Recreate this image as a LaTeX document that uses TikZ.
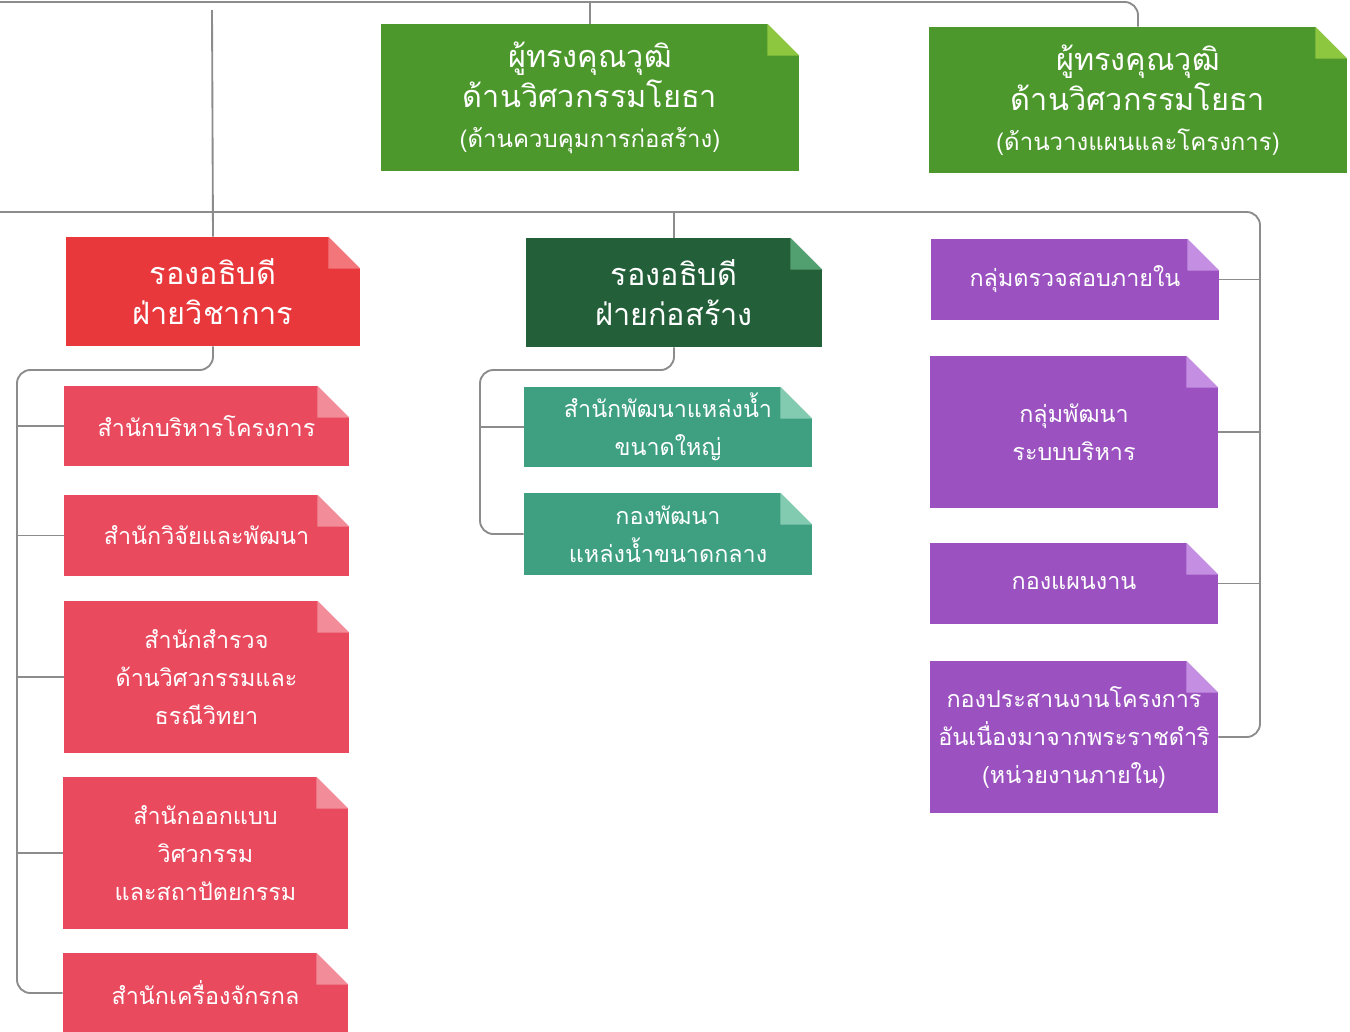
\documentclass[tikz,border=0pt]{standalone}
\usepackage{fontspec}
\newfontfamily\thaifont[Script=Thai]{Loma}
\usetikzlibrary{calc}

\definecolor{gmain}{RGB}{76,152,44}
\definecolor{gfold}{RGB}{141,198,63}
\definecolor{rmain}{RGB}{232,56,60}
\definecolor{rfold}{RGB}{242,118,122}
\definecolor{rchild}{RGB}{233,74,94}
\definecolor{rcfold}{RGB}{242,140,152}
\definecolor{dmain}{RGB}{35,96,58}
\definecolor{dfold}{RGB}{82,160,112}
\definecolor{tmain}{RGB}{62,160,128}
\definecolor{tfold}{RGB}{130,202,176}
\definecolor{pmain}{RGB}{155,82,192}
\definecolor{pfold}{RGB}{196,142,226}
\definecolor{linegray}{RGB}{140,140,140}

\tikzset{
  card/.style={rectangle, inner sep=0pt, text=white, align=center},
  headtxt/.style={font=\thaifont\fontsize{23}{30}\selectfont},
  unittxt/.style={font=\thaifont\fontsize{17.5}{28.5}\selectfont},
  conn/.style={draw=linegray, line width=1.4pt, rounded corners=10pt},
}

\begin{document}
\begin{tikzpicture}[x=0.75pt,y=0.75pt,yscale=-1,xscale=1]
\useasboundingbox (0,0) rectangle (1350,1032);

%Shape: Top cards
\node[card, headtxt, fill=gmain, minimum width=313.5pt, minimum height=110.25pt] (g1) at (590,97.5)
  {ผู้ทรงคุณวุฒิ\\ด้านวิศวกรรมโยธา\\{\fontsize{18}{30}\selectfont(ด้านควบคุมการก่อสร้าง)}};
\node[card, headtxt, fill=gmain, minimum width=313.5pt, minimum height=109.5pt] (g2) at (1138,100)
  {ผู้ทรงคุณวุฒิ\\ด้านวิศวกรรมโยธา\\{\fontsize{18}{30}\selectfont(ด้านวางแผนและโครงการ)}};

%Shape: Deputy cards
\node[card, headtxt, fill=rmain, minimum width=220.5pt, minimum height=81.75pt] (r0) at (213,291.5)
  {รองอธิบดี\\ฝ่ายวิชาการ};
\node[card, headtxt, fill=dmain, minimum width=222pt, minimum height=81.75pt] (d0) at (674,292.5)
  {รองอธิบดี\\ฝ่ายก่อสร้าง};

%Shape: Technical units
\node[card, unittxt, fill=rchild, minimum width=213.75pt, minimum height=60pt] (r1) at (206.5,426)
  {สำนักบริหารโครงการ};
\node[card, unittxt, fill=rchild, minimum width=213.75pt, minimum height=60.75pt] (r2) at (206.5,535.5)
  {สำนักวิจัยและพัฒนา};
\node[card, unittxt, fill=rchild, minimum width=213.75pt, minimum height=114pt] (r3) at (206.5,677)
  {สำนักสำรวจ\\ด้านวิศวกรรมและ\\ธรณีวิทยา};
\node[card, unittxt, fill=rchild, minimum width=213.75pt, minimum height=114pt] (r4) at (205.5,853)
  {สำนักออกแบบ\\วิศวกรรม\\และสถาปัตยกรรม};
\node[card, unittxt, fill=rchild, minimum width=213.75pt, minimum height=60pt] (r5) at (205.5,993)
  {สำนักเครื่องจักรกล};

%Shape: Construction units
\node[card, unittxt, fill=tmain, minimum width=216pt, minimum height=60pt] (t1) at (668,427)
  {สำนักพัฒนาแหล่งน้ำ\\ขนาดใหญ่};
\node[card, unittxt, fill=tmain, minimum width=216pt, minimum height=61.5pt] (t2) at (668,534)
  {กองพัฒนา\\แหล่งน้ำขนาดกลาง};

%Shape: Internal units
\node[card, unittxt, fill=pmain, minimum width=216pt, minimum height=60.75pt] (p1) at (1075,279.5)
  {กลุ่มตรวจสอบภายใน};
\node[card, unittxt, fill=pmain, minimum width=216pt, minimum height=114pt] (p2) at (1074,432)
  {กลุ่มพัฒนา\\ระบบบริหาร};
\node[card, unittxt, fill=pmain, minimum width=216pt, minimum height=60.75pt] (p3) at (1074,583.5)
  {กองแผนงาน};
\node[card, unittxt, fill=pmain, minimum width=216pt, minimum height=114pt] (p4) at (1074,737)
  {กองประสานงานโครงการ\\อันเนื่องมาจากพระราชดำริ\\(หน่วยงานภายใน)};

%Shape: Folded corners
\foreach \n/\c in {g1/gfold,g2/gfold,r0/rfold,d0/dfold,r1/rcfold,r2/rcfold,r3/rcfold,r4/rcfold,r5/rcfold,t1/tfold,t2/tfold,p1/pfold,p2/pfold,p3/pfold,p4/pfold}{
  \fill[white] (\n.north east) -- ($(\n.north east)+(-32,0)$) -- ($(\n.north east)+(0,32)$) -- cycle;
  \fill[\c] ($(\n.north east)+(-32,0)$) -- ($(\n.north east)+(0,32)$) -- ($(\n.north east)+(-32,32)$) -- cycle;
}

%Straight Lines: bus coordinates
\coordinate (topbus) at (0,2);
\coordinate (topdrop) at (212,10);
\coordinate (midbus) at (0,212);
\coordinate (rbus) at (1260,212);
\coordinate (lbus) at (17,370);
\coordinate (tbus) at (480,370);

%Straight Lines: top level
\draw[conn] (topbus) -| (g2.north);
\draw[conn] (g1.north) -- (g1.north |- topbus);
\draw[conn] (topdrop) -- (r0.north);
\draw[conn] (midbus) -- (rbus) |- (p4.east);
\draw[conn] (d0.north) -- (d0.north |- midbus);
\foreach \n in {p1,p2,p3}{
  \draw[conn] (\n.east) -- (\n.east -| rbus);
}

%Straight Lines: technical side
\draw[conn] (r0.south) |- (lbus) |- (r5.west);
\foreach \n in {r1,r2,r3,r4}{
  \draw[conn] (\n.west) -- (\n.west -| lbus);
}

%Straight Lines: construction side
\draw[conn] (d0.south) |- (tbus) |- (t2.west);
\draw[conn] (t1.west) -- (t1.west -| tbus);

\end{tikzpicture}
\end{document}
